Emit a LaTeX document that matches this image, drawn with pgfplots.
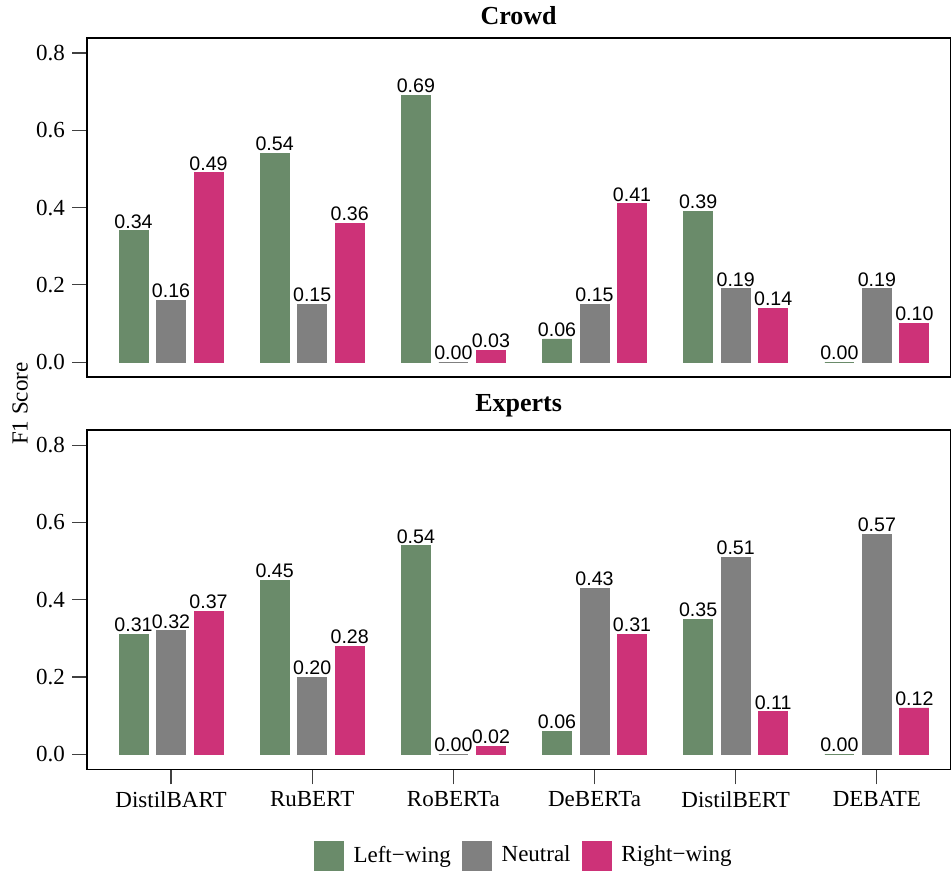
\documentclass[border=0pt]{standalone}
\usepackage{fontspec}
\setmainfont{Liberation Serif}
\setsansfont{Liberation Sans}
\usepackage{pgfplots}
\usepackage{pgfplotstable}
\pgfplotsset{compat=1.18}
\usetikzlibrary{calc}

\definecolor{leftc}{HTML}{6A8B6A}
\definecolor{neutc}{HTML}{808080}
\definecolor{rightc}{HTML}{CD3278}

\pgfplotstableread{
idx left neutral right
0 0.34 0.16 0.49
1 0.54 0.15 0.36
2 0.69 0.00 0.03
3 0.06 0.15 0.41
4 0.39 0.19 0.14
5 0.00 0.19 0.10
}\crowd

\pgfplotstableread{
idx left neutral right
0 0.31 0.32 0.37
1 0.45 0.20 0.28
2 0.54 0.00 0.02
3 0.06 0.43 0.31
4 0.35 0.51 0.11
5 0.00 0.57 0.12
}\experts

\pgfplotsset{panel/.style={
    width=431.5pt, height=169.5pt, scale only axis,
    xmin=-0.595, xmax=5.52, ymin=-0.0387, ymax=0.8387,
    ytick={0,0.2,0.4,0.6,0.8},
    /pgf/number format/assume math mode=true,
    yticklabel style={/pgf/number format/.cd, fixed, fixed zerofill, precision=1},
    tick label style={font=\rmfamily\fontsize{11.5}{13}\selectfont},
    ytick pos=left, xtick pos=bottom, tick align=outside,
    major tick length=7.5pt,
    tick style={black!75, line width=0.6pt},
    axis line style={line width=0.75pt},
    ybar=4.25pt, bar width=14.5pt,
    nodes near coords,
    every node near coord/.append style={font=\sffamily\fontsize{9.8}{11}\selectfont,
        inner sep=1pt, /pgf/number format/.cd, fixed, fixed zerofill, precision=2},
    title style={font=\rmfamily\bfseries\fontsize{13}{15}\selectfont, yshift=-3pt},
  },
  lw/.style={fill=leftc, draw=leftc, line width=0.4pt},
  nt/.style={fill=neutc, draw=neutc, line width=0.4pt},
  rw/.style={fill=rightc, draw=rightc, line width=0.4pt},
}

\begin{document}
\begin{tikzpicture}
  \begin{axis}[panel, name=top, title={Crowd}, xtick=\empty]
    \addplot[lw] table[x=idx, y=left] {\crowd};
    \addplot[nt] table[x=idx, y=neutral] {\crowd};
    \addplot[rw] table[x=idx, y=right] {\crowd};
  \end{axis}

  \begin{axis}[panel, name=bot, title={Experts},
      at={($(top.south west)+(0,-26.5pt)$)}, anchor=north west,
      xtick={0,1,2,3,4,5},
      xticklabels={DistilBART, RuBERT, RoBERTa, DeBERTa, DistilBERT, DEBATE},
      legend style={at={(0.5,-0.209)}, anchor=north, xshift=3pt, draw=none, inner sep=0pt,
        legend columns=-1, font=\rmfamily\fontsize{11.5}{13}\selectfont,
        /tikz/every odd column/.append style={column sep=3pt},
        /tikz/every even column/.append style={column sep=3.5pt}},
      legend image code/.code={\fill[#1] (0pt,-7.25pt) rectangle (14.5pt,7.25pt);},
    ]
    \addplot[lw] table[x=idx, y=left] {\experts};
    \addlegendentry{Left\textminus wing}
    \addplot[nt] table[x=idx, y=neutral] {\experts};
    \addlegendentry{Neutral}
    \addplot[rw] table[x=idx, y=right] {\experts};
    \addlegendentry{Right\textminus wing}
  \end{axis}

  \node[rotate=90, inner sep=0pt, font=\rmfamily\fontsize{11.5}{13}\selectfont]
    at ($(top.south west)!0.5!(bot.north west)+(-33.5pt,0)$) {F1 Score};
  % white margin on the left, as in the reference
  \path ($(top.south west)+(-43.5pt,0)$);
\end{tikzpicture}
\end{document}
